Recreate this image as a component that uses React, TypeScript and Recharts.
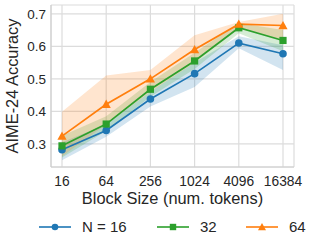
import { ComposedChart, Line, Area, XAxis, YAxis, CartesianGrid } from "recharts";

const blockSizes = ["16", "64", "256", "1024", "4096", "16384"];

const n16 = [0.282, 0.341, 0.438, 0.516, 0.61, 0.577];
const n32 = [0.294, 0.361, 0.468, 0.555, 0.657, 0.618];
const n64 = [0.324, 0.422, 0.5, 0.59, 0.668, 0.664];

const n16Band: [number, number][] = [
  [0.25, 0.305],
  [0.322, 0.36],
  [0.415, 0.46],
  [0.475, 0.55],
  [0.594, 0.631],
  [0.527, 0.603],
];
const n32Band: [number, number][] = [
  [0.258, 0.325],
  [0.34, 0.385],
  [0.445, 0.49],
  [0.53, 0.58],
  [0.64, 0.672],
  [0.585, 0.65],
];
const n64Band: [number, number][] = [
  [0.262, 0.399],
  [0.36, 0.51],
  [0.46, 0.527],
  [0.55, 0.634],
  [0.655, 0.675],
  [0.62, 0.7],
];

const yTicks = [0.3, 0.4, 0.5, 0.6, 0.7];

const BLUE = "#1f77b4";
const GREEN = "#2ca02c";
const ORANGE = "#ff7f0e";
const FONT = "'Liberation Sans', Arial, sans-serif";

const data = blockSizes.map((b, i) => ({
  block: b,
  n16: n16[i],
  n32: n32[i],
  n64: n64[i],
  n16Band: n16Band[i],
  n32Band: n32Band[i],
  n64Band: n64Band[i],
}));

const CircleDot = (props: any) => {
  const { cx, cy } = props;
  if (cx == null || cy == null) return null;
  return <circle cx={cx} cy={cy} r={3.8} fill={BLUE} />;
};

const SquareDot = (props: any) => {
  const { cx, cy } = props;
  if (cx == null || cy == null) return null;
  return <rect x={cx - 3.6} y={cy - 3.6} width={7.2} height={7.2} fill={GREEN} />;
};

const TriangleDot = (props: any) => {
  const { cx, cy } = props;
  if (cx == null || cy == null) return null;
  const s = 4.6;
  return (
    <polygon
      points={`${cx},${cy - s} ${cx - s},${cy + s * 0.8} ${cx + s},${cy + s * 0.8}`}
      fill={ORANGE}
    />
  );
};

const legendItems = [
  { label: "N = 16", color: BLUE, shape: "circle", x: 39 },
  { label: "32", color: GREEN, shape: "square", x: 157 },
  { label: "64", color: ORANGE, shape: "triangle", x: 246 },
];

function ChartLegend() {
  return (
    <svg width={317} height={20} style={{ position: "absolute", left: 0, top: 217 }}>
      {legendItems.map((it) => {
        const cy = 10;
        const mx = it.x + 16;
        return (
          <g key={it.label}>
            <line x1={it.x} x2={it.x + 32} y1={cy} y2={cy} stroke={it.color} strokeWidth={1.6} />
            {it.shape === "circle" && <circle cx={mx} cy={cy} r={3.3} fill={it.color} />}
            {it.shape === "square" && (
              <rect x={mx - 3.2} y={cy - 3.2} width={6.4} height={6.4} fill={it.color} />
            )}
            {it.shape === "triangle" && (
              <polygon
                points={`${mx},${cy - 4} ${mx - 4},${cy + 3.2} ${mx + 4},${cy + 3.2}`}
                fill={it.color}
              />
            )}
            <text
              x={it.x + 43}
              y={cy + 5}
              fontSize={15}
              fontFamily={FONT}
              fill="#262626"
            >
              {it.label}
            </text>
          </g>
        );
      })}
    </svg>
  );
}

export default function App() {
  return (
    <div style={{ position: "absolute", left: 0, top: 0, width: 317, height: 247, background: "#fff" }}>
      <ComposedChart
        width={317}
        height={247}
        data={data}
        margin={{ top: 5, right: 23, bottom: 40, left: 0 }}
      >
        <CartesianGrid stroke="#dcdcdc" strokeWidth={1.2} />
        <XAxis
          dataKey="block"
          scale="point"
          padding={{ left: 11, right: 11 }}
          tickLine={false}
          tickSize={0}
          tickMargin={9}
          height={40}
          axisLine={{ stroke: "#cccccc" }}
          tick={{ fontSize: 13.8, fontFamily: FONT, fill: "#262626" }}
          interval={0}
          label={{
            value: "Block Size (num. tokens)",
            position: "insideBottom",
            offset: 3,
            fontSize: 16.4,
            fontFamily: FONT,
            fill: "#262626",
          }}
        />
        <XAxis
          xAxisId="top"
          dataKey="block"
          orientation="top"
          height={0}
          tick={false}
          tickLine={false}
          axisLine={{ stroke: "#cccccc" }}
        />
        <YAxis
          domain={[0.229, 0.727]}
          ticks={yTicks}
          width={51}
          tickLine={false}
          tickSize={0}
          tickMargin={5}
          axisLine={{ stroke: "#cccccc" }}
          tickFormatter={(v: number) => v.toFixed(1)}
          tick={{ fontSize: 13.5, fontFamily: FONT, fill: "#262626" }}
          allowDataOverflow
          label={{
            value: "AIME-24 Accuracy",
            angle: -90,
            position: "insideLeft",
            offset: 12,
            fontSize: 16.4,
            fontFamily: FONT,
            fill: "#262626",
            style: { textAnchor: "middle" },
          }}
        />
        <YAxis
          yAxisId="right"
          orientation="right"
          width={0}
          tick={false}
          tickLine={false}
          axisLine={{ stroke: "#cccccc" }}
        />
        <Area dataKey="n16Band" stroke="none" fill={BLUE} fillOpacity={0.2} isAnimationActive={false} />
        <Area dataKey="n32Band" stroke="none" fill={GREEN} fillOpacity={0.2} isAnimationActive={false} />
        <Area dataKey="n64Band" stroke="none" fill={ORANGE} fillOpacity={0.2} isAnimationActive={false} />
        <Line dataKey="n16" stroke={BLUE} strokeWidth={1.7} dot={<CircleDot />} activeDot={false} isAnimationActive={false} />
        <Line dataKey="n32" stroke={GREEN} strokeWidth={1.7} dot={<SquareDot />} activeDot={false} isAnimationActive={false} />
        <Line dataKey="n64" stroke={ORANGE} strokeWidth={1.7} dot={<TriangleDot />} activeDot={false} isAnimationActive={false} />
      </ComposedChart>
      <ChartLegend />
    </div>
  );
}
